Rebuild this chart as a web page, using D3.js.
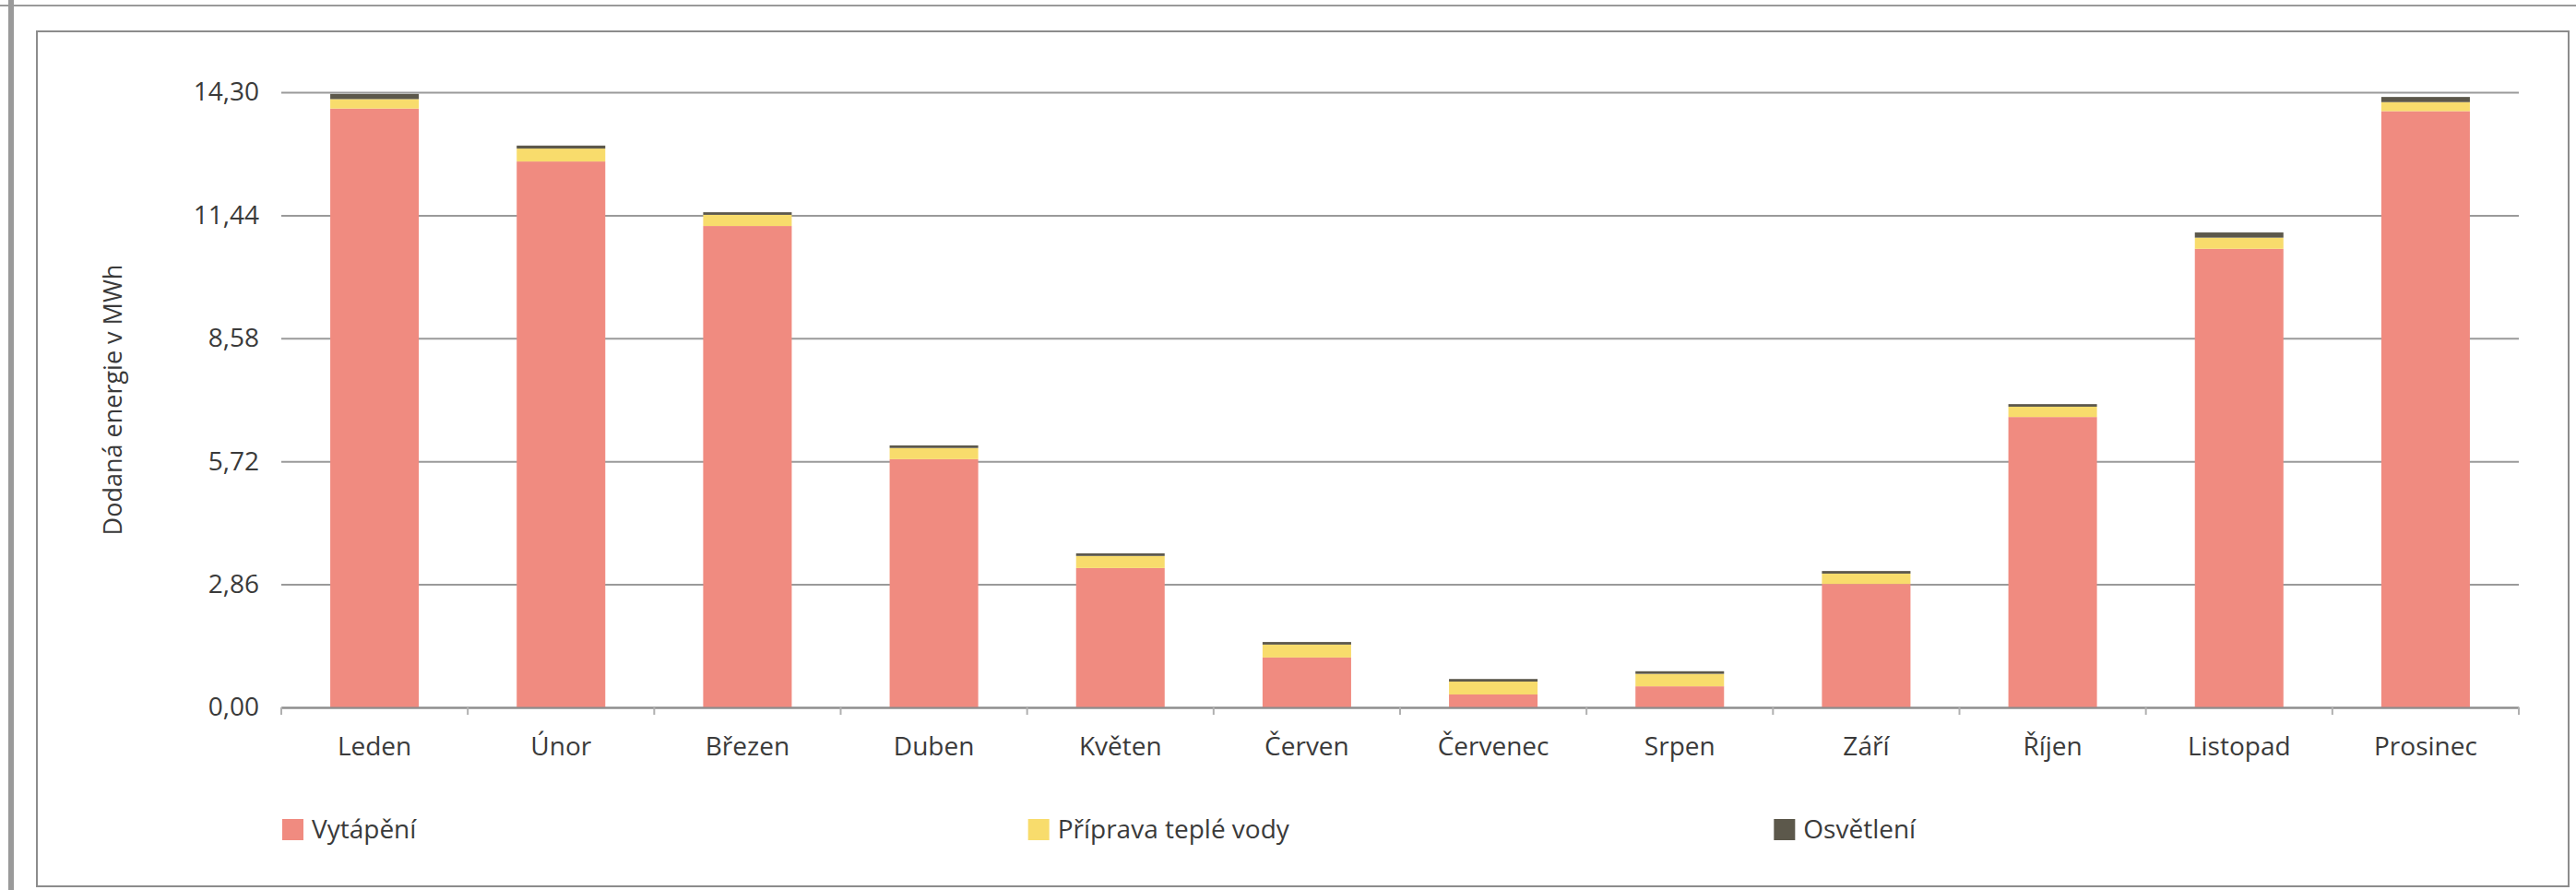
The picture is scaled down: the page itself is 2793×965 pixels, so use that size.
<!DOCTYPE html>
<html>
<head>
<meta charset="utf-8">
<script src="https://cdnjs.cloudflare.com/ajax/libs/d3/7.8.5/d3.min.js"></script>
<style>
body { margin: 0; background: #fff; }
text { font-family: "Open Sans", sans-serif; }
</style>
</head>
<body>
<div id="chart"></div>
<script>
// data
var months = ["Leden", "Únor", "Březen", "Duben", "Květen", "Červen", "Červenec", "Srpen", "Září", "Říjen", "Listopad", "Prosinec"];
var vytapeni = [13.92, 12.69, 11.19, 5.77, 3.24, 1.16, 0.30, 0.49, 2.87, 6.75, 10.66, 13.86];
var pripravaVody = [0.22, 0.30, 0.26, 0.26, 0.28, 0.30, 0.30, 0.29, 0.24, 0.24, 0.26, 0.21];
var osvetleni = [0.12, 0.07, 0.06, 0.06, 0.06, 0.06, 0.06, 0.06, 0.06, 0.06, 0.12, 0.12];
var seriesNames = ["Vytápění", "Příprava teplé vody", "Osvětlení"];
var yTicks = [0, 2.86, 5.72, 8.58, 11.44, 14.30];
var colors = ["#f08b80", "#f8dc6c", "#5c584b"];

var W = 2793, H = 965;
var margin = {top: 100, right: 62, bottom: 198, left: 305},
    width = W - margin.left - margin.right,
    height = H - margin.top - margin.bottom;

var root = d3.select("#chart")
  .append("svg")
    .attr("width", W)
    .attr("height", H);

// scan frame
root.append("rect").attr("x", 9).attr("y", 0).attr("width", 6).attr("height", H).attr("fill", "#9a9a9a");
root.append("line").attr("x1", 0).attr("x2", W).attr("y1", 6).attr("y2", 6).attr("stroke", "#9a9a9a").attr("stroke-width", 2);
root.append("rect").attr("x", 40).attr("y", 34).attr("width", W - 48).attr("height", H - 38)
  .attr("fill", "none").attr("stroke", "#8c8c8c").attr("stroke-width", 2);

var svg = root.append("g")
  .attr("transform", "translate(" + margin.left + "," + margin.top + ")");

var table = months.map(function(m, i) {
  return {month: m, "Vytápění": vytapeni[i], "Příprava teplé vody": pripravaVody[i], "Osvětlení": osvetleni[i]};
});
var stacked = d3.stack().keys(seriesNames)(table);

var x = d3.scaleBand()
  .domain(months)
  .range([0, width])
  .paddingInner(0.525)
  .paddingOuter(0.2625);

var y = d3.scaleLinear()
  .domain([0, 14.3])
  .range([height, 0]);

// y axis + gridlines
var yAxis = svg.append("g");
yAxis.call(d3.axisLeft(y).tickValues(yTicks).tickSize(-width).tickPadding(24)
    .tickFormat(function(d) { return d3.format(".2f")(d).replace(".", ","); }));
yAxis.select(".domain").remove();
yAxis.selectAll("line").attr("stroke", "#9a9a9a").attr("stroke-width", 2);
yAxis.selectAll("text").style("font-size", "28px").attr("fill", "#3a3a3a");

// bars
svg.append("g").selectAll("g")
  .data(stacked)
  .join("g")
    .attr("fill", function(d, i) { return colors[i]; })
  .selectAll("rect")
  .data(function(d) { return d; })
  .join("rect")
    .attr("x", function(d) { return x(d.data.month); })
    .attr("y", function(d) { return y(d[1]); })
    .attr("height", function(d) { return y(d[0]) - y(d[1]); })
    .attr("width", x.bandwidth());

// x axis
var xAxis = svg.append("g").attr("transform", "translate(0," + height + ")");
xAxis.call(d3.axisBottom(x).tickSize(0).tickPadding(32));
xAxis.select(".domain").attr("stroke", "#8c8c8c").attr("stroke-width", 2);
xAxis.selectAll("text").style("font-size", "28px").attr("fill", "#3a3a3a");

// small ticks between the months
xAxis.append("g").selectAll("line")
  .data(d3.range(months.length + 1))
  .join("line")
    .attr("x1", function(i) { return i * x.step(); })
    .attr("x2", function(i) { return i * x.step(); })
    .attr("y1", 0)
    .attr("y2", 8)
    .attr("stroke", "#b0b0b0")
    .attr("stroke-width", 2);

// y title
svg.append("text")
  .attr("transform", "rotate(-90)")
  .attr("x", -height / 2)
  .attr("y", 123 - margin.left)
  .attr("dy", "0.35em")
  .attr("text-anchor", "middle")
  .style("font-size", "27px")
  .attr("fill", "#3a3a3a")
  .text("Dodaná energie v MWh");

// legend
var legend = svg.append("g").attr("transform", "translate(0," + (height + 132) + ")");
var item = legend.selectAll("g")
  .data(seriesNames)
  .join("g")
    .attr("transform", function(d, i) { return "translate(" + (i * width / 3) + ",0)"; });
item.append("rect")
  .attr("x", 1).attr("y", -11)
  .attr("width", 23).attr("height", 23)
  .attr("fill", function(d, i) { return colors[i]; });
item.append("text")
  .attr("x", 33)
  .attr("dy", "0.35em")
  .style("font-size", "28px")
  .attr("fill", "#3a3a3a")
  .text(function(d) { return d; });
</script>
</body>
</html>
